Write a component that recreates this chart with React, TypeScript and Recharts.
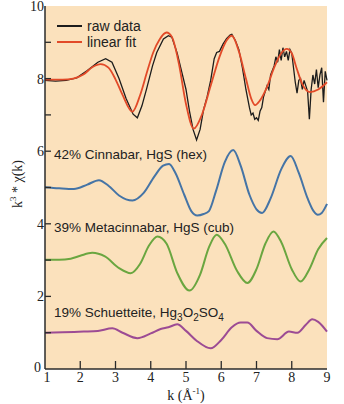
import React from 'react'
import { LineChart, Line, XAxis, YAxis, CartesianGrid } from 'recharts'

// k (Å^-1) vs k^3·χ(k), curves offset vertically as in the figure
const rawK = [1.0, 1.3, 1.6, 1.9, 2.2, 2.5, 2.72, 2.9, 3.1, 3.3, 3.5, 3.62, 3.75, 3.88, 4.05, 4.17, 4.36, 4.5, 4.6, 4.75, 4.9, 5.0, 5.1, 5.2, 5.3, 5.4, 5.5, 5.6, 5.7, 5.8, 5.87, 5.95, 6.05, 6.15, 6.25, 6.3, 6.4, 6.5, 6.6, 6.7, 6.8, 6.85, 6.9, 6.95, 7.0, 7.05, 7.1, 7.15, 7.2, 7.3, 7.35, 7.4, 7.5, 7.55, 7.6, 7.65, 7.7, 7.75, 7.8, 7.85, 7.9, 7.95, 8.0, 8.05, 8.1, 8.15, 8.2, 8.25, 8.3, 8.35, 8.4, 8.45, 8.5, 8.55, 8.6, 8.65, 8.7, 8.75, 8.8, 8.85, 8.9, 8.95, 9.0]
const rawY = [7.95, 7.93, 7.95, 8.02, 8.22, 8.45, 8.55, 8.45, 8.0, 7.45, 7.02, 6.92, 7.25, 7.71, 8.35, 8.72, 9.09, 9.18, 9.14, 8.7, 8.1, 7.7, 7.1, 6.6, 6.31, 6.6, 7.15, 7.5, 7.95, 8.55, 8.72, 8.75, 8.95, 9.1, 9.2, 9.22, 9.05, 8.8, 8.3, 7.7, 7.2, 7.0, 7.05, 6.88, 6.92, 6.85, 7.1, 7.2, 7.5, 7.8, 7.7, 8.1, 8.35, 8.6, 8.45, 8.8, 8.5, 8.85, 8.6, 8.75, 8.5, 8.8, 8.7, 8.3, 7.9, 7.6, 7.95, 8.0, 7.7, 7.95, 7.8, 7.65, 6.88, 7.7, 8.1, 7.85, 8.25, 7.75, 8.1, 8.3, 7.35, 8.2, 7.95]

const fitK = [1.0, 1.5, 1.8, 2.1, 2.35, 2.58, 2.8, 3.0, 3.2, 3.48, 3.7, 3.9, 4.07, 4.25, 4.45, 4.6, 4.8, 5.0, 5.22, 5.45, 5.7, 5.95, 6.15, 6.3, 6.5, 6.7, 6.85, 6.96, 7.1, 7.29, 7.5, 7.7, 7.86, 8.0, 8.14, 8.3, 8.52, 8.75, 9.0]
const fitY = [7.97, 7.97, 8.0, 8.12, 8.32, 8.4, 8.3, 7.98, 7.55, 7.09, 7.55, 8.2, 8.72, 9.08, 9.27, 9.15, 8.4, 7.3, 6.62, 7.0, 7.8, 8.6, 9.05, 9.18, 8.75, 8.0, 7.45, 7.27, 7.4, 7.75, 8.3, 8.7, 8.82, 8.7, 8.28, 7.85, 7.63, 7.7, 7.9]

const cinnabarK = [1.0, 1.4, 1.82, 2.2, 2.53, 2.8, 3.1, 3.48, 3.8, 4.1, 4.35, 4.52, 4.7, 4.95, 5.15, 5.32, 5.5, 5.65, 5.85, 6.1, 6.34, 6.55, 6.8, 7.0, 7.16, 7.4, 7.7, 7.97, 8.2, 8.45, 8.62, 8.74, 8.85, 9.0]
const cinnabarY = [5.01, 4.98, 4.96, 5.08, 5.2, 5.05, 4.78, 4.64, 4.85, 5.3, 5.6, 5.65, 5.4, 4.8, 4.35, 4.23, 4.27, 4.35, 4.9, 5.7, 6.03, 5.6, 4.8, 4.4, 4.3, 4.7, 5.5, 5.87, 5.4, 4.7, 4.35, 4.25, 4.3, 4.55]

const metaK = [1.0, 1.4, 1.73, 2.0, 2.34, 2.7, 3.1, 3.43, 3.7, 3.95, 4.19, 4.45, 4.75, 5.1, 5.4, 5.65, 5.87, 6.1, 6.45, 6.74, 7.0, 7.25, 7.48, 7.7, 8.0, 8.25, 8.5, 8.75, 9.0]
const metaY = [3.01, 3.01, 3.04, 3.12, 3.2, 3.1, 2.78, 2.64, 2.9, 3.4, 3.65, 3.45, 2.65, 2.16, 2.6, 3.35, 3.7, 3.45, 2.7, 2.37, 2.75, 3.45, 3.79, 3.5, 2.75, 2.41, 2.75, 3.3, 3.61]

const schuetK = [1.0, 1.5, 2.1, 2.5, 2.91, 3.2, 3.62, 4.0, 4.28, 4.5, 4.75, 5.0, 5.3, 5.7, 6.0, 6.3, 6.55, 6.74, 7.0, 7.3, 7.59, 7.92, 8.16, 8.4, 8.58, 8.75, 9.0]
const schuetY = [1.0, 1.01, 1.03, 1.05, 1.12, 1.0, 0.85, 0.98, 1.1, 1.15, 1.23, 1.05, 0.78, 0.57, 0.8, 1.15, 1.28, 1.28, 1.05, 0.85, 0.82, 1.03, 1.0, 1.22, 1.37, 1.3, 1.03]

const xTicks = [1, 2, 3, 4, 5, 6, 7, 8, 9]
const yTicks = [0, 1, 2, 3, 4, 5, 6, 7, 8, 9, 10]

const zip = (ks: number[], ys: number[]) => ks.map((k, i) => ({ k, y: ys[i] }))

const AXIS = '#2b2b2b'
const SERIF = '"Liberation Serif", "DejaVu Serif", serif'
const SANS = '"Liberation Sans", Arial, sans-serif'
const tickText = { fontFamily: SERIF, fontSize: 14, fill: '#222' }

const BottomTick = ({ x, y, payload }: any) => (
  <g>
    {payload.value > 1 && payload.value < 9 && <line x1={x} x2={x} y1={y} y2={y - 8} stroke={AXIS} strokeWidth={1.3} />}
    <text x={payload.value === 1 ? x + 2 : x} y={y + 13} textAnchor="middle" style={tickText}>{payload.value}</text>
  </g>
)

const TopTick = ({ x, y, payload }: any) =>
  payload.value > 1 && payload.value < 9 ? <line x1={x} x2={x} y1={y} y2={y + 8} stroke={AXIS} strokeWidth={1.3} /> : <g />

const LeftTick = ({ x, y, payload }: any) => (
  <g>
    {payload.value > 0 && payload.value < 10 && <line x1={x} x2={x + 6} y1={y} y2={y} stroke={AXIS} strokeWidth={1.3} />}
    {payload.value % 2 === 0 && (
      <text x={payload.value === 0 ? x - 4 : x - 1} y={payload.value === 0 ? y + 3 : y + 5} textAnchor="end" style={tickText}>{payload.value}</text>
    )}
  </g>
)

const RightTick = ({ x, y, payload }: any) =>
  payload.value > 0 && payload.value < 10 ? <line x1={x} x2={x - 6} y1={y} y2={y} stroke={AXIS} strokeWidth={1.3} /> : <g />

const legendItems = [
  { name: 'raw data', color: '#1c1c1c' },
  { name: 'linear fit', color: '#e24a28' },
]

const note = (top: number): React.CSSProperties => ({
  position: 'absolute', left: 54, top, fontFamily: SANS, fontSize: 13.5, color: '#222', whiteSpace: 'nowrap', lineHeight: '16px',
})

export default function App() {
  return (
    <div style={{ position: 'relative', width: 344, height: 404, background: '#fff' }}>
      <style>{'body{margin:0}'}</style>
      <LineChart width={344} height={404} margin={{ top: 6, right: 17, left: 0, bottom: 0 }}>
        <CartesianGrid horizontal={false} vertical={false} fill="#fbe1bc" />
        <XAxis dataKey="k" type="number" domain={[1, 9]} ticks={xTicks} interval={0} height={35}
          tickSize={0} tickMargin={0} tickLine={false} tick={<BottomTick />} axisLine={{ stroke: AXIS, strokeWidth: 1.5 }} />
        <XAxis xAxisId="top" orientation="top" dataKey="k" type="number" domain={[1, 9]} ticks={xTicks} interval={0} height={0}
          tickSize={0} tickMargin={0} tickLine={false} tick={<TopTick />} axisLine={{ stroke: AXIS, strokeWidth: 1.5 }} />
        <YAxis type="number" domain={[0, 10]} ticks={yTicks} interval={0} width={45}
          tickSize={0} tickMargin={0} tickLine={false} tick={<LeftTick />} axisLine={{ stroke: AXIS, strokeWidth: 1.5 }} />
        <YAxis yAxisId="right" orientation="right" type="number" domain={[0, 10]} ticks={yTicks} interval={0} width={0}
          tickSize={0} tickMargin={0} tickLine={false} tick={<RightTick />} axisLine={{ stroke: AXIS, strokeWidth: 1.5 }} />
        <Line data={zip(rawK, rawY)} dataKey="y" name="raw data" type="linear" stroke="#1c1c1c" strokeWidth={1.3} dot={false} isAnimationActive={false} />
        <Line data={zip(fitK, fitY)} dataKey="y" name="linear fit" type="monotone" stroke="#e24a28" strokeWidth={1.8} dot={false} isAnimationActive={false} />
        <Line data={zip(cinnabarK, cinnabarY)} dataKey="y" name="Cinnabar" type="monotone" stroke="#4574a6" strokeWidth={2} dot={false} isAnimationActive={false} />
        <Line data={zip(metaK, metaY)} dataKey="y" name="Metacinnabar" type="monotone" stroke="#6aa640" strokeWidth={2} dot={false} isAnimationActive={false} />
        <Line data={zip(schuetK, schuetY)} dataKey="y" name="Schuetteite" type="monotone" stroke="#9c4b94" strokeWidth={2} dot={false} isAnimationActive={false} />
      </LineChart>
      <div style={{ position: 'absolute', left: 57, top: 18, fontFamily: SANS, fontSize: 14, color: '#222', lineHeight: '16px' }}>
        {legendItems.map((it) => (
          <div key={it.name} style={{ display: 'flex', alignItems: 'center' }}>
            <span style={{ display: 'inline-block', width: 25, height: 2, background: it.color, marginRight: 5 }} />
            {it.name}
          </div>
        ))}
      </div>
      <div style={note(147)}>42% Cinnabar, HgS (hex)</div>
      <div style={note(220)}>39% Metacinnabar, HgS (cub)</div>
      <div style={note(305)}>19% Schuetteite, Hg<sub style={{ fontSize: 10 }}>3</sub>O<sub style={{ fontSize: 10 }}>2</sub>SO<sub style={{ fontSize: 10 }}>4</sub></div>
      <div style={{ position: 'absolute', left: 17, top: 184, transform: 'translate(-50%, -50%) rotate(-90deg)', fontFamily: SERIF, fontSize: 14, color: '#222', whiteSpace: 'nowrap' }}>
        k<sup style={{ fontSize: 9 }}>3</sup> * χ(k)
      </div>
      <div style={{ position: 'absolute', left: 0, width: 372, top: 386, textAlign: 'center', fontFamily: SERIF, fontSize: 14, color: '#222', whiteSpace: 'nowrap' }}>
        k (Å<sup style={{ fontSize: 9 }}>-1</sup>)
      </div>
    </div>
  )
}
